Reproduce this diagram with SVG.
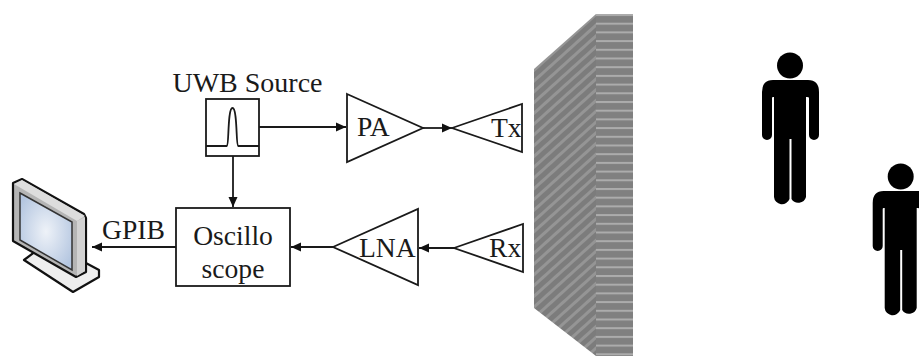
<svg xmlns="http://www.w3.org/2000/svg" width="919" height="356" viewBox="0 0 919 356">
<style>
.s{fill:#fff;stroke:#1a1a1a;stroke-width:1.8}
.c{fill:none;stroke:#1a1a1a;stroke-width:1.8}
text{font-family:"Liberation Serif","Times New Roman",serif;font-size:27.6px;fill:#1a1a1a}
.m{text-anchor:middle}
</style>
<defs>
<marker id="a" markerUnits="userSpaceOnUse" markerWidth="11" markerHeight="12" refX="10" refY="6" orient="auto"><path d="M0 1.500 L10 6 L0 10.500Z" fill="#111"/></marker>
<pattern id="d" patternUnits="userSpaceOnUse" width="8" height="8" patternTransform="rotate(-42)"><rect width="8" height="8" fill="#7c7c7c"/><rect y="0" width="8" height="3" fill="#959595"/></pattern>
<pattern id="h" patternUnits="userSpaceOnUse" width="37" height="8.7" y="14"><rect width="37" height="8.7" fill="#808080"/><rect y="0" width="37" height="2" fill="#acacac"/></pattern>
<radialGradient id="sc" cx="0.5" cy="0.5" r="0.6"><stop offset="0" stop-color="#eef2f8"/><stop offset="1" stop-color="#b4c6e0"/></radialGradient>
<g id="man">
<circle cx="790" cy="65.500" r="13"/>
<path d="M773 80H808Q819 80 819 92V135A5 5 0 0 1 809 135V98Q809 97 807 97H806V197A8 8 0 0 1 791.500 199V139H789.500V199A8 8 0 0 1 774 197V97H773Q772 97 772 98V135A5 5 0 0 1 762 135V92Q762 80 773 80Z"/>
</g>
</defs>
<rect width="919" height="356" fill="#fff"/>
<g id="connectors">
<path class="c" d="M259 127H346" marker-end="url(#a)"/>
<path class="c" d="M423 128H452" marker-end="url(#a)"/>
<path class="c" d="M233 156V207" marker-end="url(#a)"/>
<path class="c" d="M454 248H419" marker-end="url(#a)"/>
<path class="c" d="M333 247H291" marker-end="url(#a)"/>
<path class="c" d="M176 247H92" marker-end="url(#a)"/>
</g>
<g id="source">
<rect class="s" x="206" y="99" width="53" height="57"/>
<path class="c" d="M206 146H227C229 146 227.500 108 232.500 108C237.500 108 236 146 238 146H259"/>
<text x="247.500" y="92" class="m" style="font-size:28px">UWB Source</text>
</g>
<g id="pa">
<path class="s" d="M347 94L423 128L347 162Z"/>
<text x="357" y="136">PA</text>
</g>
<g id="tx">
<path class="s" d="M452 128L522 104V152Z"/>
<text x="491" y="137">Tx</text>
</g>
<g id="lna">
<path class="s" d="M333 247L418 209V285Z"/>
<text x="359" y="257">LNA</text>
</g>
<g id="rx">
<path class="s" d="M454 248L523 224V272Z"/>
<text x="489" y="257">Rx</text>
</g>
<g id="oscilloscope">
<rect class="s" x="176" y="208" width="114" height="78"/>
<text x="233" y="245" class="m">Oscillo</text>
<text x="233" y="278" class="m">scope</text>
</g>
<g id="gpib">
<text x="102" y="239">GPIB</text>
</g>
<g id="monitor">
<path d="M24 260L73 292L99 277V270L84 262L40 248Z" fill="#eee" stroke="#111" stroke-width="2.200" stroke-linejoin="round"/>
<path d="M13 183L22 179L84 214L86 218V272L76 277L13 241Z" fill="#b5b5b5" stroke="#111" stroke-width="2.200" stroke-linejoin="round"/>
<path d="M14 184L22 180L85 216L77 221Z" fill="#ddd"/>
<path d="M77 221L85 217V271L77 276Z" fill="#d2d2d2"/>
<path d="M20 193L72 222V270L20 240Z" fill="url(#sc)" stroke="#333" stroke-width="1.500"/>
</g>
<g id="wall">
<path d="M534 69L596 14V356L534 308Z" fill="url(#d)"/>
<rect x="596" y="14" width="37" height="342" fill="url(#h)"/>
</g>
<g id="person1"><use href="#man"/></g>
<g id="person2"><use href="#man" x="110.700" y="111"/></g>
</svg>
